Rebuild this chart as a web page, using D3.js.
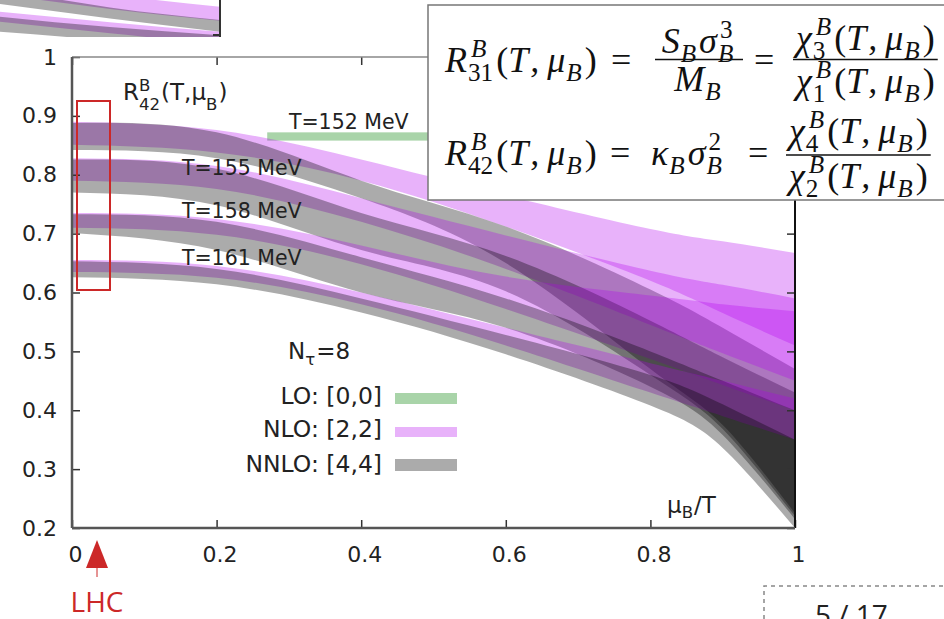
<!DOCTYPE html>
<html>
<head>
<meta charset="utf-8">
<script src="https://cdn.jsdelivr.net/npm/d3@7"></script>
<style>
  body { margin: 0; background: #fff; }
  svg { display: block; }
</style>
</head>
<body>
<svg id="chart" width="944" height="619"></svg>
<script>
const MU = [0, 0.2, 0.4, 0.6, 0.8, 0.9, 1.0];
const TEMPS = ['T=152 MeV', 'T=155 MeV', 'T=158 MeV', 'T=161 MeV'];

// NLO [2,2] band edges, one row per temperature
const NLO_HI = [
  [0.890, 0.876, 0.826, 0.765, 0.708, 0.687, 0.667],
  [0.828, 0.815, 0.760, 0.697, 0.637, 0.613, 0.590],
  [0.735, 0.725, 0.680, 0.627, 0.595, 0.580, 0.568],
  [0.655, 0.645, 0.600, 0.540, 0.480, 0.450, 0.420]
];
const NLO_LO = [
  [0.851, 0.838, 0.790, 0.712, 0.620, 0.565, 0.510],
  [0.790, 0.776, 0.720, 0.640, 0.545, 0.497, 0.450],
  [0.710, 0.698, 0.648, 0.572, 0.487, 0.443, 0.400],
  [0.635, 0.625, 0.580, 0.510, 0.430, 0.390, 0.350]
];
// NNLO [4,4] band edges
const NNLO_HI = [
  [0.888, 0.872, 0.790, 0.712, 0.605, 0.540, 0.470],
  [0.826, 0.810, 0.735, 0.662, 0.552, 0.490, 0.430],
  [0.733, 0.720, 0.660, 0.590, 0.500, 0.450, 0.400],
  [0.653, 0.640, 0.590, 0.528, 0.460, 0.410, 0.350]
];
const NNLO_LO = [
  [0.842, 0.828, 0.760, 0.650, 0.470, 0.375, 0.225],
  [0.770, 0.748, 0.672, 0.602, 0.460, 0.368, 0.220],
  [0.701, 0.672, 0.600, 0.540, 0.440, 0.358, 0.215],
  [0.626, 0.614, 0.566, 0.495, 0.408, 0.336, 0.200]
];
// LO [0,0] band at T=152 MeV (flat in mu_B)
const LO_152 = [0.858, 0.872];

const X_TICKS = [0, 0.2, 0.4, 0.6, 0.8, 1];
const Y_TICKS = [0.2, 0.3, 0.4, 0.5, 0.6, 0.7, 0.8, 0.9, 1];
const LEGEND = ['LO: [0,0]', 'NLO: [2,2]', 'NNLO: [4,4]'];

// piece of the neighbouring figure peeking out at the top left
const INSET_X = [0, 0.5, 1];
const INSET_NLO = [[[-0.6, -0.15, 0.18], [-0.15, 0.24, 0.56]], [[0.32, 0.6, 0.86], [0.59, 0.9, 1.2]]];
const INSET_NNLO = [[[-0.3, 0.2, 0.54], [0.11, 0.5, 0.86]], [[0.45, 0.73, 0.95], [0.86, 1.1, 1.4]]];

const COL = {
  lo: { fill: '#0a850a', op: 0.35 },
  nlo: { fill: '#b200ee', op: 0.3 },
  nnlo: { fill: '#000000', op: 0.33 }
};
const SANS = "'DejaVu Sans', sans-serif";

const svg = d3.select('#chart').attr('font-family', SANS);
const x = d3.scaleLinear().domain([0, 1]).range([72, 795]);
const y = d3.scaleLinear().domain([0.2, 1]).range([528, 57]);

const defs = svg.append('defs');
defs.append('clipPath').attr('id', 'plotclip')
  .append('rect').attr('x', 72).attr('y', 57).attr('width', 723).attr('height', 471);
defs.append('clipPath').attr('id', 'insetclip')
  .append('rect').attr('x', 0).attr('y', 0).attr('width', 220).attr('height', 37);

// ---- inset fragment
const xi = d3.scaleLinear().domain([0, 1]).range([0, 220]);
const yi = d3.scaleLinear().domain([0, 1]).range([0, 37]);
const insetArea = d3.area()
  .x((d, i) => xi(INSET_X[i])).y0(d => yi(d[0])).y1(d => yi(d[1]))
  .curve(d3.curveNatural);
const inset = svg.append('g').attr('clip-path', 'url(#insetclip)');
[0, 1].forEach(k => {
  inset.append('path')
    .attr('d', insetArea(INSET_X.map((m, i) => [INSET_NLO[k][0][i], INSET_NLO[k][1][i]])))
    .attr('fill', COL.nlo.fill).attr('fill-opacity', COL.nlo.op);
  inset.append('path')
    .attr('d', insetArea(INSET_X.map((m, i) => [INSET_NNLO[k][0][i], INSET_NNLO[k][1][i]])))
    .attr('fill', COL.nnlo.fill).attr('fill-opacity', COL.nnlo.op);
});
svg.append('line').attr('x1', 220).attr('x2', 220).attr('y1', 0).attr('y2', 37)
  .attr('stroke', '#333').attr('stroke-width', 2);
svg.append('line').attr('x1', 213).attr('x2', 220).attr('y1', 35).attr('y2', 35)
  .attr('stroke', '#333').attr('stroke-width', 2);

// ---- bands
const area = d3.area()
  .x((d, i) => x(MU[i]))
  .y0(d => y(d[0]))
  .y1(d => y(d[1]))
  .curve(d3.curveNatural);

const plot = svg.append('g').attr('clip-path', 'url(#plotclip)');

plot.append('rect')
  .attr('x', x(0.27)).attr('width', x(1) - x(0.27))
  .attr('y', y(LO_152[1])).attr('height', y(LO_152[0]) - y(LO_152[1]))
  .attr('fill', COL.lo.fill).attr('fill-opacity', COL.lo.op);

TEMPS.forEach((t, k) => {
  plot.append('path')
    .attr('d', area(MU.map((m, i) => [NLO_LO[k][i], NLO_HI[k][i]])))
    .attr('fill', COL.nlo.fill).attr('fill-opacity', COL.nlo.op);
  plot.append('path')
    .attr('d', area(MU.map((m, i) => [NNLO_LO[k][i], NNLO_HI[k][i]])))
    .attr('fill', COL.nnlo.fill).attr('fill-opacity', COL.nnlo.op);
});

// ---- axes
const fmt = d => String(d);
const gl = svg.append('g').attr('transform', `translate(${x(0)},0)`)
  .call(d3.axisLeft(y).tickValues(Y_TICKS).tickSizeInner(-8).tickSizeOuter(0).tickPadding(15).tickFormat(fmt));
const gb = svg.append('g').attr('transform', `translate(0,${y(0.2)})`)
  .call(d3.axisBottom(x).tickValues(X_TICKS).tickSizeInner(-8).tickSizeOuter(0).tickPadding(18).tickFormat(fmt));
const gt = svg.append('g').attr('transform', `translate(0,${y(1)})`)
  .call(d3.axisTop(x).tickValues(X_TICKS).tickSizeInner(-8).tickSizeOuter(0).tickFormat(''));
const gr = svg.append('g').attr('transform', `translate(${x(1)},0)`)
  .call(d3.axisRight(y).tickValues(Y_TICKS).tickSizeInner(-8).tickSizeOuter(0).tickFormat(''));
[gl, gb, gt, gr].forEach(g => {
  g.attr('font-family', SANS).attr('font-size', 22);
  g.select('.domain').remove();
  g.selectAll('.tick line').attr('stroke', '#333').attr('stroke-width', 1.5);
  g.selectAll('text').attr('fill', '#222');
});
gb.selectAll('text').attr('dx', 3);

svg.append('line').attr('x1', x(0)).attr('x2', x(1)).attr('y1', y(1)).attr('y2', y(1))
  .attr('stroke', '#888').attr('stroke-width', 1.5);
svg.append('line').attr('x1', x(1)).attr('x2', x(1)).attr('y1', y(1)).attr('y2', y(0.2))
  .attr('stroke', '#111').attr('stroke-width', 2);
svg.append('line').attr('x1', x(0)).attr('x2', x(0)).attr('y1', y(1)).attr('y2', y(0.2))
  .attr('stroke', '#555').attr('stroke-width', 2.5);
svg.append('line').attr('x1', x(0)).attr('x2', x(1)).attr('y1', y(0.2)).attr('y2', y(0.2))
  .attr('stroke', '#555').attr('stroke-width', 2.5);

// ---- text helper: base text with optional sup/sub pieces
function run(g, x0, yb, o, parts) {
  const fs = o.fs, sfs = fs * (o.ss || 0.7);
  let cx = x0;
  const mk = (xx, yy, size, txt, ital) => g.append('text')
    .attr('x', xx).attr('y', yy).attr('font-size', size)
    .attr('font-family', o.fam).attr('font-style', ital ? 'italic' : 'normal')
    .attr('fill', o.col || '#111').text(txt);
  parts.forEach(p => {
    if (typeof p === 'string' || p.t !== undefined) {
      const txt = typeof p === 'string' ? p : p.t;
      const ital = o.math && typeof p !== 'string';
      const n = mk(cx, yb, fs, txt, ital);
      cx += n.node().getComputedTextLength() + (p.sp || 0);
    } else {
      let w = 0;
      if (p.sup) {
        const n = mk(cx + (p.dx || 0), yb - fs * (o.up || 0.42), sfs, p.sup, o.math && /[A-Za-z]/.test(p.sup));
        w = Math.max(w, n.node().getComputedTextLength() + (p.dx || 0));
      }
      if (p.sub) {
        const n = mk(cx, yb + fs * (o.dn || 0.22), sfs, p.sub, o.math && /[A-Za-z]/.test(p.sub));
        w = Math.max(w, n.node().getComputedTextLength());
      }
      cx += w + (o.gap || 1);
    }
  });
  return cx;
}

// ---- labels inside the plot
const lab = svg.append('g');
const sans = { fs: 23, fam: SANS, ss: 0.72, up: 0.38, dn: 0.42, col: '#222' };
run(lab, 123, 100, sans, ['R', { sup: 'B', sub: '42' }, '(T,μ', { sub: 'B' }, ')']);
const tPos = [[0.30, 0.878], [0.152, 0.800], [0.152, 0.727], [0.152, 0.647]];
TEMPS.forEach((t, k) => {
  lab.append('text').attr('x', x(tPos[k][0])).attr('y', y(tPos[k][1]))
    .attr('font-size', 20.5).attr('fill', '#222').text(t);
});
run(lab, 288, 359, Object.assign({}, sans, { fs: 23, dn: 0.25 }), ['N', { sub: 'τ' }, '=8']);
run(lab, 667, 513, Object.assign({}, sans, { fs: 23, dn: 0.22 }), ['μ', { sub: 'B' }, '/T']);

// ---- legend
const legCols = [COL.lo, COL.nlo, COL.nnlo];
const legBase = [404, 437, 472];
const legBox = [[393, 11], [427, 10], [459, 12]];
LEGEND.forEach((t, i) => {
  lab.append('text').attr('x', 382).attr('y', legBase[i]).attr('text-anchor', 'end')
    .attr('font-size', 23.5).attr('fill', '#222').text(t);
  lab.append('rect').attr('x', 395).attr('y', legBox[i][0]).attr('width', 62).attr('height', legBox[i][1])
    .attr('fill', legCols[i].fill).attr('fill-opacity', legCols[i].op);
});

// ---- formula box
const fb = svg.append('g');
fb.append('rect').attr('x', 428).attr('y', 5).attr('width', 540).attr('height', 195)
  .attr('fill', '#fff').attr('stroke', '#777').attr('stroke-width', 1.5);
const serif = { fs: 36, fam: "'Liberation Serif', serif", math: true, ss: 0.7, up: 0.42, dn: 0.25, gap: 3 };

function frac(x0, yBar, num, yNum, den, yDen, minW) {
  const gn = fb.append('g'), gd = fb.append('g');
  const wn = run(gn, x0, yNum, serif, num) - x0;
  const wd = run(gd, x0, yDen, serif, den) - x0;
  const w = Math.max(wn, wd, minW || 0);
  gn.attr('transform', `translate(${(w - wn) / 2},0)`);
  gd.attr('transform', `translate(${(w - wd) / 2},0)`);
  fb.append('line').attr('x1', x0 - 3).attr('x2', x0 + w + 3).attr('y1', yBar).attr('y2', yBar)
    .attr('stroke', '#111').attr('stroke-width', 1.6);
}
// plain strings are upright, {t} pieces are italic
const argParts = ['(', { t: 'T', sp: 2 }, { t: ',', sp: 8 }, { t: 'μ', sp: 1 }, { sub: 'B' }, ')'];
const lhs = (sub) => [{ t: 'R', sp: 1 }, { sup: 'B', sub: sub, dx: 3 }].concat(argParts);

run(fb, 445, 72, serif, lhs('31'));
run(fb, 611, 72, serif, ['=']);
frac(658, 59.5, [{ t: 'S', sp: 1 }, { sub: 'B' }, { t: 'σ', sp: 1 }, { sup: '3', sub: 'B', dx: 2 }], 53,
  [{ t: 'M', sp: 1 }, { sub: 'B' }], 91, 82);
run(fb, 754, 72, serif, ['=']);
frac(796, 59.5, [{ t: 'χ', sp: 1 }, { sup: 'B', sub: '3', dx: 3 }].concat(argParts), 50,
  [{ t: 'χ', sp: 1 }, { sup: 'B', sub: '1', dx: 3 }].concat(argParts), 93);

run(fb, 445, 165, serif, lhs('42'));
run(fb, 610, 165, serif, ['=']);
run(fb, 651, 165, serif, [{ t: 'κ', sp: 1 }, { sub: 'B' }, { t: 'σ', sp: 1 }, { sup: '2', sub: 'B', dx: 2 }]);
run(fb, 748, 165, serif, ['=']);
frac(789, 155, [{ t: 'χ', sp: 1 }, { sup: 'B', sub: '4', dx: 3 }].concat(argParts), 143,
  [{ t: 'χ', sp: 1 }, { sup: 'B', sub: '2', dx: 3 }].concat(argParts), 188);

// ---- LHC marker
const red = '#cc2828';
svg.append('rect').attr('x', 77).attr('y', 101).attr('width', 33).attr('height', 189)
  .attr('fill', 'none').attr('stroke', red).attr('stroke-width', 2);
svg.append('path').attr('d', 'M97,540 L86,568 L108,568 Z').attr('fill', red);
svg.append('line').attr('x1', 97).attr('x2', 97).attr('y1', 568).attr('y2', 577)
  .attr('stroke', red).attr('stroke-width', 1);
svg.append('text').attr('x', 97).attr('y', 612).attr('text-anchor', 'middle')
  .attr('font-family', "'Open Sans', sans-serif").attr('font-size', 28)
  .attr('fill', red).text('LHC');

// ---- page counter
svg.append('path').attr('d', 'M764,619 L764,586 L944,586')
  .attr('fill', 'none').attr('stroke', '#888').attr('stroke-width', 1.5).attr('stroke-dasharray', '4,4');
svg.append('text').attr('x', 815).attr('y', 625)
  .attr('font-family', "'Open Sans', sans-serif").attr('font-size', 28)
  .attr('fill', '#222').text('5 / 17');
</script>
</body>
</html>
